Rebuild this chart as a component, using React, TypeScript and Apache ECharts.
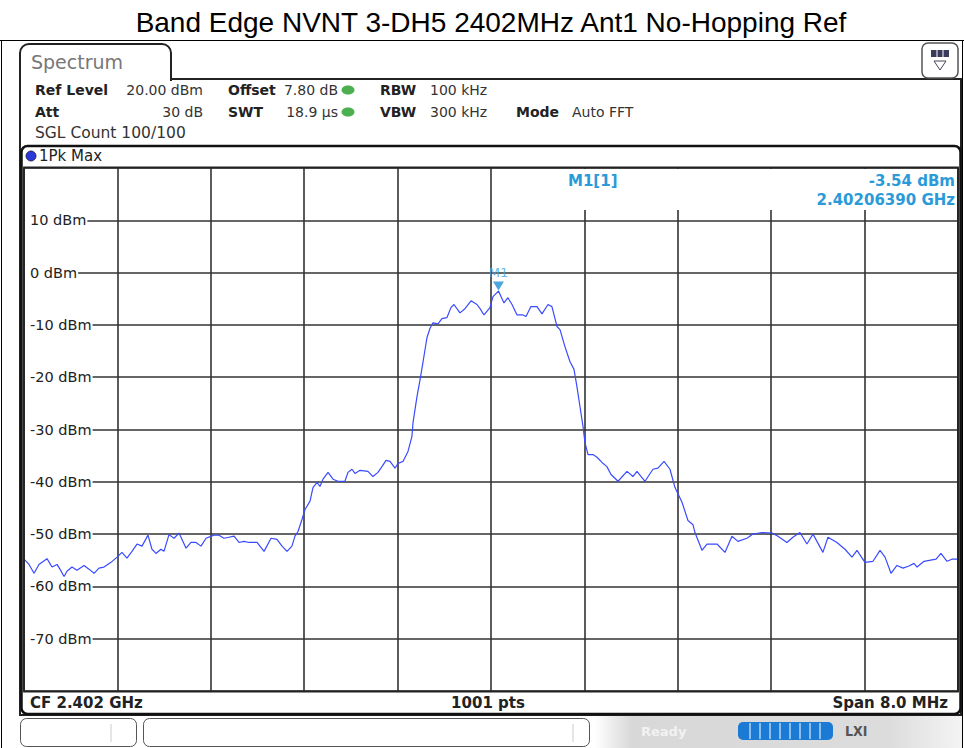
import React, { useEffect, useRef } from "react";
import * as echarts from "echarts";

const titleText = "Band Edge NVNT 3-DH5 2402MHz Ant1 No-Hopping Ref";

// frequency offset from 2.398 GHz start (MHz) and trace level (dBm)
const offsetMHz = [
  0.0, 0.043, 0.086, 0.128, 0.197, 0.24, 0.283, 0.308, 0.343, 0.368, 0.411, 0.454, 0.514, 0.557, 0.6, 0.642, 0.685,
  0.745, 0.797, 0.839, 0.882, 0.925, 0.968, 1.011, 1.062, 1.096, 1.131, 1.173, 1.199, 1.242, 1.285, 1.328, 1.388,
  1.43, 1.473, 1.516, 1.559, 1.627, 1.67, 1.713, 1.756, 1.799, 1.842, 1.884, 1.927, 1.996, 2.056, 2.116, 2.167,
  2.21, 2.253, 2.295, 2.321, 2.347, 2.381, 2.407, 2.45, 2.475, 2.51, 2.535, 2.561, 2.604, 2.647, 2.689, 2.749,
  2.775, 2.809, 2.835, 2.878, 2.946, 2.989, 3.032, 3.066, 3.101, 3.135, 3.178, 3.203, 3.246, 3.289, 3.323, 3.332,
  3.349, 3.366, 3.392, 3.417, 3.435, 3.452, 3.477, 3.503, 3.546, 3.58, 3.623, 3.657, 3.683, 3.734, 3.777, 3.829,
  3.88, 3.906, 3.94, 3.991, 4.017, 4.064, 4.111, 4.145, 4.18, 4.223, 4.274, 4.3, 4.342, 4.394, 4.437, 4.488,
  4.522, 4.565, 4.591, 4.634, 4.676, 4.711, 4.736, 4.762, 4.788, 4.805, 4.831, 4.873, 4.908, 4.951, 4.993, 5.028,
  5.088, 5.165, 5.216, 5.25, 5.319, 5.387, 5.43, 5.482, 5.533, 5.576, 5.636, 5.687, 5.73, 5.747, 5.807, 5.85,
  5.936, 6.004, 6.064, 6.115, 6.192, 6.244, 6.321, 6.407, 6.458, 6.535, 6.586, 6.646, 6.706, 6.758, 6.843, 6.886,
  6.963, 7.032, 7.092, 7.135, 7.203, 7.272, 7.332, 7.375, 7.426, 7.477, 7.529, 7.58, 7.623, 7.649, 7.709, 7.812,
  7.854, 7.906, 7.948, 8.0,
];
const levelDbm = [
  -54.8, -55.8, -57.5, -55.8, -54.7, -56.3, -55.8, -56.7, -58.1, -57.1, -56.3, -56.9, -56.0, -56.7, -57.5, -56.5, -56.3,
  -55.4, -54.4, -53.5, -54.6, -53.3, -51.9, -52.3, -50.2, -52.9, -53.7, -52.9, -53.3, -50.1, -50.8, -49.8, -52.7,
  -51.6, -51.6, -52.3, -50.8, -50.2, -50.2, -50.8, -50.6, -50.4, -51.6, -51.4, -51.6, -51.6, -53.3, -50.8, -51.0,
  -52.3, -53.3, -52.3, -50.4, -49.5, -47.2, -45.3, -43.7, -41.1, -40.1, -40.9, -39.5, -38.2, -39.5, -39.9, -39.9,
  -38.2, -37.6, -38.4, -37.8, -38.0, -39.0, -38.2, -37.1, -35.9, -36.1, -37.4, -36.5, -36.1, -34.2, -31.3, -28.7,
  -26.2, -23.7, -20.5, -17.2, -14.7, -12.4, -10.7, -9.6, -9.8, -8.8, -8.6, -6.7, -6.1, -7.7, -6.9, -5.4,
  -6.1, -6.9, -8.1, -6.7, -4.6, -3.54, -5.8, -4.8, -6.1, -8.1, -8.1, -8.4, -6.5, -6.5, -7.9, -6.1,
  -6.5, -10.3, -10.9, -14.2, -17.0, -18.5, -21.8, -25.6, -29.4, -32.5, -34.8, -34.8, -35.3, -36.3, -37.1, -38.6,
  -39.9, -38.0, -39.0, -38.0, -39.9, -37.6, -37.4, -36.1, -37.6, -41.1, -43.9, -47.4, -48.2, -49.7, -53.1, -51.9,
  -51.9, -53.5, -50.4, -51.4, -50.8, -50.0, -49.7, -49.8, -50.4, -51.6, -50.6, -49.7, -51.9, -50.0, -53.5, -50.6,
  -51.6, -52.9, -54.4, -53.1, -55.4, -55.2, -53.1, -54.4, -57.5, -56.0, -56.5, -56.1, -55.6, -56.3, -55.2, -54.8,
  -53.7, -55.2, -54.8, -54.8,
];

const yTicks = [10, 0, -10, -20, -30, -40, -50, -60, -70];
const markerOffsetMHz = 4.0639;
const markerLevel = -3.54;
const markerLabel = "M1";
const markerHeader = "M1[1]";
const markerLevelText = "-3.54 dBm";
const markerFreqText = "2.40206390 GHz";
const footerLeft = "CF 2.402 GHz";
const footerCenter = "1001 pts";
const footerRight = "Span 8.0 MHz";

const F = "DejaVu Sans";
const INK = "#222";
const MK = "#2a9ad8";

function txt(x: number, y: number, text: string, opts: any = {}) {
  return {
    type: "text",
    z: 20,
    style: {
      x,
      y,
      text,
      fill: opts.fill || INK,
      font: `${opts.weight || "normal"} ${opts.size || 14}px "${opts.family || F}"`,
      align: opts.align || "left",
      verticalAlign: "middle",
    },
  };
}

export default function App() {
  const ref = useRef<HTMLDivElement>(null);
  useEffect(() => {
    const chart = echarts.init(ref.current!, null, { renderer: "svg" });
    const graphic: any[] = [
      // page frame
      { type: "line", z: 20, shape: { x1: 0, y1: 40.5, x2: 964, y2: 40.5 }, style: { stroke: "#000", lineWidth: 1 } },
      { type: "line", z: 20, shape: { x1: 1.5, y1: 40, x2: 1.5, y2: 748 }, style: { stroke: "#000", lineWidth: 1 } },
      { type: "line", z: 20, shape: { x1: 962.5, y1: 40, x2: 962.5, y2: 748 }, style: { stroke: "#000", lineWidth: 1 } },
      txt(491, 22, titleText, { size: 28, family: "Liberation Sans", align: "center", fill: "#000" }),
      // outer window
      { type: "rect", z: 19, shape: { x: 20, y: 79, width: 941, height: 636 }, style: { fill: "none", stroke: "#222", lineWidth: 2 } },
      // tab
      { type: "rect", z: 20, shape: { x: 20, y: 44, width: 151, height: 36, r: [9, 9, 0, 0] }, style: { fill: "#fff", stroke: "#222", lineWidth: 2 } },
      { type: "rect", z: 21, shape: { x: 21, y: 76, width: 149, height: 6 }, style: { fill: "#fff" } },
      txt(31, 62, "Spectrum", { size: 19, fill: "#777" }),
      // window icon
      { type: "rect", z: 21, shape: { x: 922, y: 43, width: 36, height: 35, r: 6 }, style: { fill: "#fff", stroke: "#555", lineWidth: 1.5 } },
      { type: "rect", z: 22, shape: { x: 931, y: 50, width: 18, height: 7 }, style: { fill: "#3a3a5a" } },
      { type: "line", z: 23, shape: { x1: 937, y1: 50, x2: 937, y2: 57 }, style: { stroke: "#fff", lineWidth: 1 } },
      { type: "line", z: 23, shape: { x1: 943, y1: 50, x2: 943, y2: 57 }, style: { stroke: "#fff", lineWidth: 1 } },
      { type: "polygon", z: 22, shape: { points: [[934, 61], [946, 61], [940, 70]] }, style: { fill: "#fff", stroke: "#445", lineWidth: 1 } },
      // info rows
      txt(35, 90, "Ref Level", { weight: "bold" }),
      txt(203, 90, "20.00 dBm", { fill: "#333", align: "right" }),
      txt(228, 90, "Offset", { weight: "bold" }),
      txt(338, 90, "7.80 dB", { fill: "#333", align: "right" }),
      { type: "ellipse", z: 20, shape: { cx: 348, cy: 90, rx: 6.5, ry: 4.5 }, style: { fill: "#4cb050" } },
      txt(380, 90, "RBW", { weight: "bold" }),
      txt(430, 90, "100 kHz", { fill: "#333" }),
      txt(35, 112, "Att", { weight: "bold" }),
      txt(203, 112, "30 dB", { fill: "#333", align: "right" }),
      txt(228, 112, "SWT", { weight: "bold" }),
      txt(338, 112, "18.9 µs", { fill: "#333", align: "right" }),
      { type: "ellipse", z: 20, shape: { cx: 348, cy: 112, rx: 6.5, ry: 4.5 }, style: { fill: "#4cb050" } },
      txt(380, 112, "VBW", { weight: "bold" }),
      txt(430, 112, "300 kHz", { fill: "#333" }),
      txt(516, 112, "Mode", { weight: "bold" }),
      txt(572, 112, "Auto FFT", { fill: "#333" }),
      txt(35, 133, "SGL Count 100/100", { fill: "#333", size: 15.5 }),
      // trace window
      { type: "rect", z: 19, shape: { x: 21.5, y: 146, width: 939, height: 568, r: 6 }, style: { fill: "none", stroke: "#111", lineWidth: 2.5 } },
      { type: "circle", z: 20, shape: { cx: 31, cy: 156, r: 5 }, style: { fill: "#2a3ad8", stroke: "#113", lineWidth: 0.8 } },
      txt(39, 156, "1Pk Max", { fill: "#222", size: 15 }),
      // plot frame
      { type: "rect", z: 18, shape: { x: 24, y: 167.5, width: 934, height: 524 }, style: { fill: "none", stroke: "#222", lineWidth: 1.8 } },
      // marker info box
      { type: "rect", z: 15, shape: { x: 492.5, y: 169, width: 464.5, height: 41 }, style: { fill: "#fff" } },
      txt(568, 181, markerHeader, { weight: "bold", fill: MK, size: 15 }),
      txt(955, 181, markerLevelText, { weight: "bold", fill: MK, align: "right", size: 15 }),
      txt(955, 200, markerFreqText, { weight: "bold", fill: MK, align: "right", size: 15 }),
      // footer
      txt(30, 703, footerLeft, { weight: "bold", size: 15 }),
      txt(488, 703, footerCenter, { weight: "bold", align: "center", size: 15 }),
      txt(948, 703, footerRight, { weight: "bold", align: "right", size: 15 }),
      // status bar
      {
        type: "rect", z: 5, shape: { x: 595, y: 715, width: 367, height: 33 },
        style: { fill: new echarts.graphic.LinearGradient(0, 0, 1, 0, [{ offset: 0, color: "#ffffff" }, { offset: 0.1, color: "#d8d8d8" }, { offset: 0.8, color: "#dcdcdc" }, { offset: 1, color: "#f4f4f4" }]) },
      },
      { type: "rect", z: 20, shape: { x: 20.5, y: 718.5, width: 116, height: 28, r: 6 }, style: { fill: "#fff", stroke: "#555", lineWidth: 1 } },
      { type: "line", z: 21, shape: { x1: 111, y1: 724, x2: 111, y2: 742 }, style: { stroke: "#ccc", lineWidth: 1 } },
      { type: "rect", z: 20, shape: { x: 143.5, y: 718.5, width: 446, height: 28, r: 6 }, style: { fill: "#fff", stroke: "#555", lineWidth: 1 } },
      { type: "line", z: 21, shape: { x1: 573, y1: 724, x2: 573, y2: 742 }, style: { stroke: "#ccc", lineWidth: 1 } },
      txt(641, 731, "Ready", { fill: "#f2f2f2", weight: "bold", size: 13 }),
      { type: "rect", z: 20, shape: { x: 738, y: 722, width: 95, height: 18, r: 5 }, style: { fill: "#1a7ad4" } },
      ...[750, 760, 770, 780, 790, 800, 810, 820].map((x) => ({
        type: "line", z: 21, shape: { x1: x, y1: 723, x2: x, y2: 739 }, style: { stroke: "#d8ecff", lineWidth: 1.2 },
      })),
      txt(845, 731, "LXI", { fill: "#555", weight: "bold", size: 14, family: "DejaVu Sans Condensed" }),
    ];

    const option: any = {
      animation: false,
      backgroundColor: "#fff",
      grid: { left: 24, top: 168, right: 6, bottom: 57, containLabel: false },
      xAxis: {
        type: "value",
        min: 0,
        max: 8000,
        interval: 800,
        axisLine: { show: false },
        axisTick: { show: false },
        axisLabel: { show: false },
        splitLine: { show: true, lineStyle: { color: "#333", width: 1.6 } },
      },
      yAxis: {
        type: "value",
        min: -80,
        max: 20,
        interval: 10,
        axisLine: { show: false },
        axisTick: { show: false },
        splitLine: { show: true, lineStyle: { color: "#333", width: 1.6 } },
        axisLabel: {
          inside: true,
          showMinLabel: false,
          showMaxLabel: false,
          margin: 1,
          formatter: (v: number) => (yTicks.includes(v) ? `${v} dBm` : ""),
          color: INK,
          fontFamily: F,
          fontSize: 14.5,
          backgroundColor: "#fff",
          padding: [1, 1, 1, 5],
        },
      },
      series: [
        {
          type: "line",
          data: offsetMHz.map((o, i) => [o * 1000, levelDbm[i]]),
          showSymbol: false,
          silent: true,
          z: 3,
          lineStyle: { color: "#3a4bff", width: 1.2 },
        },
        {
          type: "scatter",
          data: [[markerOffsetMHz * 1000, markerLevel]],
          symbol: "triangle",
          symbolRotate: 180,
          symbolSize: [11, 9],
          symbolOffset: [0, -5],
          silent: true,
          z: 4,
          itemStyle: { color: "#1f8fd6" },
          label: {
            show: true,
            formatter: markerLabel,
            position: "top",
            distance: 3,
            color: "#3ea6e0",
            fontFamily: F,
            fontSize: 13,
          },
        },
      ],
      graphic,
    };
    chart.setOption(option);
    return () => chart.dispose();
  }, []);
  return (
    <div
      ref={ref}
      style={{ position: "fixed", left: 0, top: 0, width: 964, height: 748, background: "#fff" }}
    />
  );
}
